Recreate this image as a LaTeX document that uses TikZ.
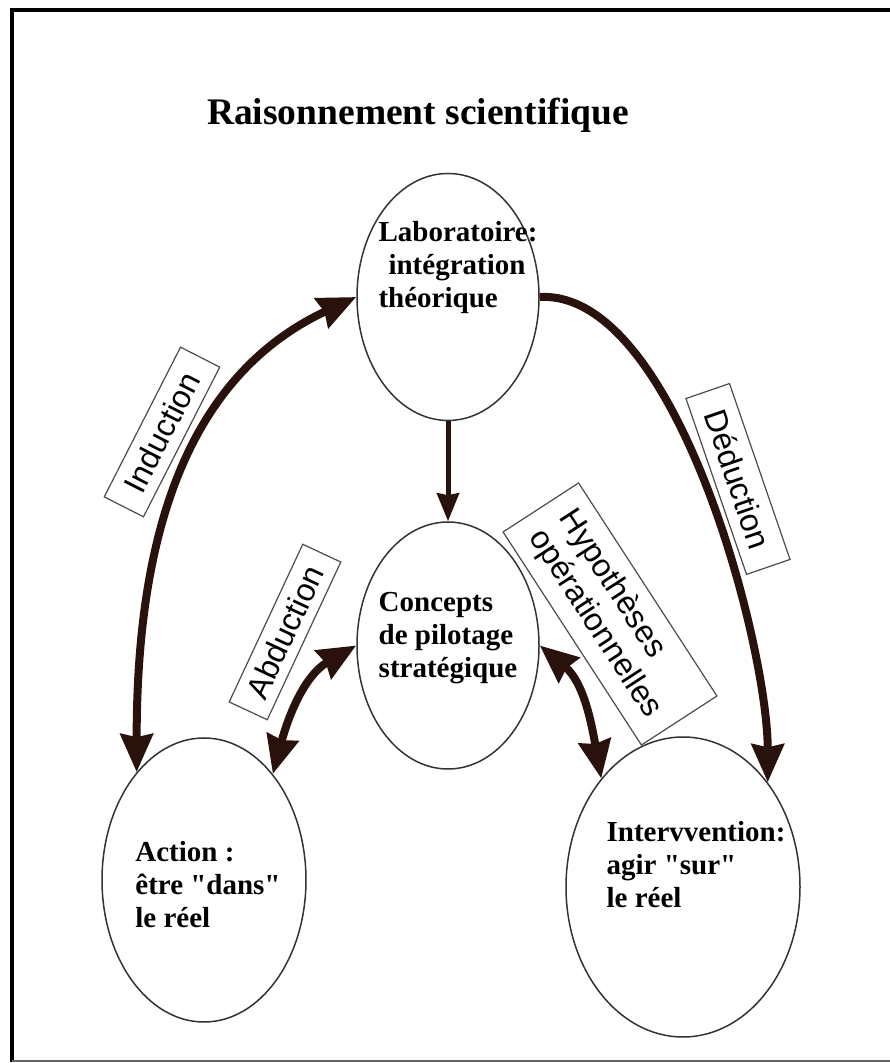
\documentclass[tikz,border=0pt]{standalone}
\usepackage{fontspec}
\setmainfont{Liberation Serif}
\setsansfont{Liberation Sans}
\usepackage{tikz}
\usetikzlibrary{shapes}
\usetikzlibrary{positioning}
\usetikzlibrary{arrows.meta}
\definecolor{arrowbrown}{RGB}{42,18,12}
\tikzstyle{bigarrow}= [line width=8pt, draw=arrowbrown, -{Stealth[length=38pt,width=32pt,inset=3pt]}]
\tikzstyle{bigbsarrow}= [line width=8pt, draw=arrowbrown, {Stealth[length=38pt,width=32pt,inset=3pt]}-{Stealth[length=38pt,width=32pt,inset=3pt]}]
\tikzstyle{smallarrow}= [line width=5pt, draw=arrowbrown, -{Stealth[length=28pt,width=22pt,inset=2pt]}]

\begin{document}
\begin{tikzpicture}[
		x=1pt,y=1pt,
		node distance=100pt,
    bubble/.style={
    draw=black!80, line width=1.5pt, ellipse, inner sep=0pt,
    },
    bubbletext/.style={
    align=left, font=\bfseries\fontsize{29}{33}\selectfont,
    },
    tag/.style={
    draw=black!70, line width=1.2pt, inner sep=0pt,
    font=\sffamily\fontsize{32}{36}\selectfont,
    }
	]
  \useasboundingbox (0,0) rectangle (890,1063);
  \draw[line width=4pt] (12,1) -- (12,1053) -- (890,1053);
  \draw[black!60, line width=1.5pt] (12,2) -- (890,2);

  \node[anchor=base, font=\bfseries\fontsize{37.5}{40}\selectfont] (title) at (418,938) {Raisonnement scientifique};

  \node[bubble, minimum width=182pt, minimum height=247pt] (lab) at (448,766) {};
  \node[bubble, minimum width=182pt, minimum height=247pt, below=of lab] (conc) {};
  \node[bubble, minimum width=204pt, minimum height=284pt] (act) at (204,183) {};
  \node[bubble, minimum width=234pt, minimum height=300pt] (interv) at (683,176) {};

  \node[bubbletext, xshift=10pt, yshift=29pt] (labtxt) at (lab) {Laboratoire:\\\hspace*{10pt}intégration\\théorique};
  \node[bubbletext, yshift=7pt] (conctxt) at (conc) {Concepts\\de pilotage\\stratégique};
  \node[bubbletext, xshift=4pt, yshift=-5pt] (acttxt) at (act) {Action :\\être \textquotedbl dans\textquotedbl\\le réel};
  \node[bubbletext, xshift=13pt, yshift=22pt] (intervtxt) at (interv) {Intervvention:\\agir \textquotedbl sur\textquotedbl\\le réel};

  \node[tag, rotate=63, minimum width=168pt, minimum height=44pt] (ind) at (162,631) {Induction};
  \node[tag, rotate=-71, minimum width=186pt, minimum height=46pt] (ded) at (738,584) {Déduction};
  \node[tag, rotate=65, minimum width=174pt, minimum height=42pt] (abd) at (285,431) {Abduction};
  \node[tag, rotate=-57, align=left, minimum width=254pt, minimum height=90pt] (hyp) at (610,449) {Hypothèses\\opérationnelles};

  \draw[bigbsarrow] (act.122) to[out=90,in=205] (lab.west);
  \draw[bigarrow] (lab.east) to[out=3,in=90,looseness=0.65] (interv.51);
  \draw[bigbsarrow] (act.57) to[out=75,in=210] (conc.west);
  \draw[bigbsarrow] (conc.east) to[out=-40,in=100] (interv.127);
  \draw[smallarrow] (lab) -- (conc);
\end{tikzpicture}
\end{document}
